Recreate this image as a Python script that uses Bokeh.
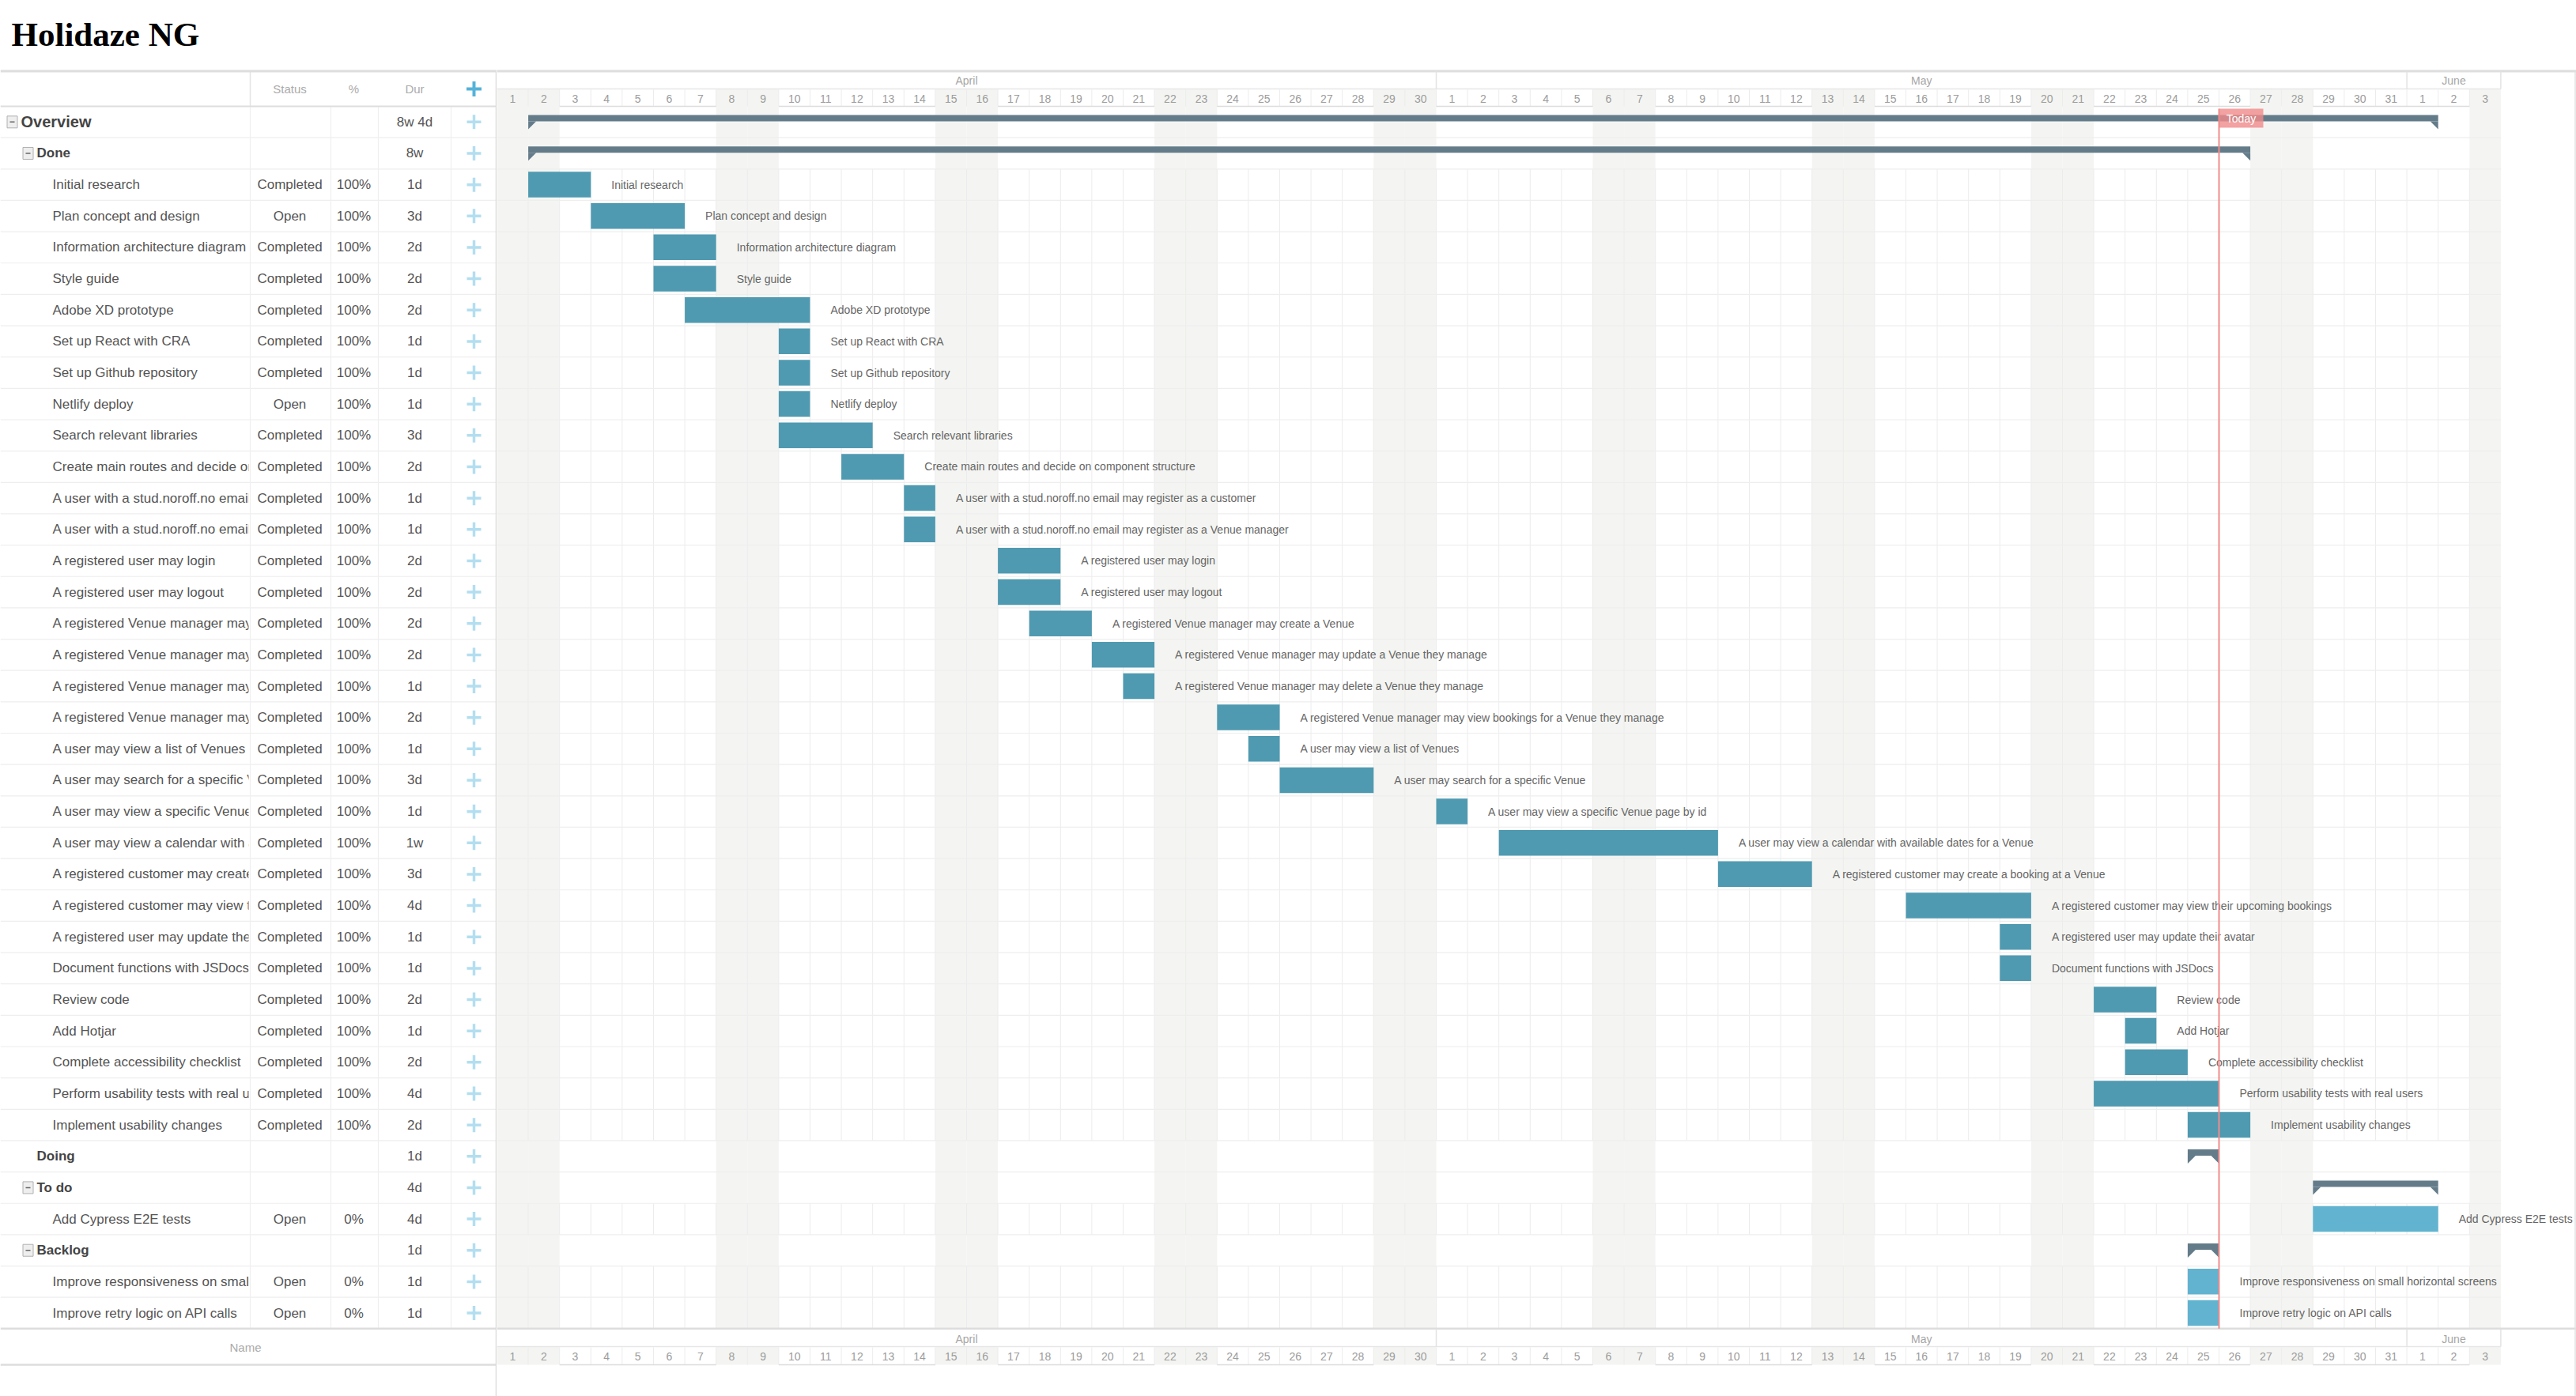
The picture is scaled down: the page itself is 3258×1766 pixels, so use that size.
import pandas as pd
from bokeh.plotting import figure
from bokeh.layouts import row
from bokeh.models import Range1d
from bokeh.embed import file_html
from bokeh.resources import INLINE
from bokeh.core.properties import value

# ---------------- data ----------------
title_text = "Holidaze NG"
header_cols = ["Status", "%", "Dur"]
footer_col = "Name"
month_labels = ["April", "May", "June"]
timeline_start = "2023-04-01"
timeline_end = "2023-06-03"
today = "2023-05-26"
today_label = "Today"

task_names = [
    "Overview", "Done", "Initial research", "Plan concept and design",
    "Information architecture diagram", "Style guide", "Adobe XD prototype",
    "Set up React with CRA", "Set up Github repository", "Netlify deploy",
    "Search relevant libraries", "Create main routes and decide on component structure",
    "A user with a stud.noroff.no email may register as a customer",
    "A user with a stud.noroff.no email may register as a Venue manager",
    "A registered user may login", "A registered user may logout",
    "A registered Venue manager may create a Venue",
    "A registered Venue manager may update a Venue they manage",
    "A registered Venue manager may delete a Venue they manage",
    "A registered Venue manager may view bookings for a Venue they manage",
    "A user may view a list of Venues", "A user may search for a specific Venue",
    "A user may view a specific Venue page by id",
    "A user may view a calendar with available dates for a Venue",
    "A registered customer may create a booking at a Venue",
    "A registered customer may view their upcoming bookings",
    "A registered user may update their avatar", "Document functions with JSDocs",
    "Review code", "Add Hotjar", "Complete accessibility checklist",
    "Perform usability tests with real users", "Implement usability changes",
    "Doing", "To do", "Add Cypress E2E tests", "Backlog",
    "Improve responsiveness on small horizontal screens",
    "Improve retry logic on API calls",
]
row_levels = [0, 1] + [2] * 31 + [1, 1, 2, 1, 2, 2]
statuses = ["", ""] + ["Completed", "Open", "Completed", "Completed", "Completed",
            "Completed", "Completed", "Open"] + ["Completed"] * 23 + \
           ["", "", "Open", "", "Open", "Open"]
progress = ["", ""] + ["100%"] * 31 + ["", "", "0%", "", "0%", "0%"]
durations = ["8w 4d", "8w", "1d", "3d", "2d", "2d", "2d", "1d", "1d", "1d", "3d", "2d",
             "1d", "1d", "2d", "2d", "2d", "2d", "1d", "2d", "1d", "3d", "1d", "1w",
             "3d", "4d", "1d", "1d", "2d", "1d", "2d", "4d", "2d", "1d", "4d", "4d",
             "1d", "1d", "1d"]
start_dates = ["2023-04-02", "2023-04-02", "2023-04-02", "2023-04-04", "2023-04-06",
               "2023-04-06", "2023-04-07", "2023-04-10", "2023-04-10", "2023-04-10",
               "2023-04-10", "2023-04-12", "2023-04-14", "2023-04-14", "2023-04-17",
               "2023-04-17", "2023-04-18", "2023-04-20", "2023-04-21", "2023-04-24",
               "2023-04-25", "2023-04-26", "2023-05-01", "2023-05-03", "2023-05-10",
               "2023-05-16", "2023-05-19", "2023-05-19", "2023-05-22", "2023-05-23",
               "2023-05-23", "2023-05-22", "2023-05-25", "2023-05-25", "2023-05-29",
               "2023-05-29", "2023-05-25", "2023-05-25", "2023-05-25"]
end_dates = ["2023-06-01", "2023-05-26", "2023-04-03", "2023-04-06", "2023-04-07",
             "2023-04-07", "2023-04-10", "2023-04-10", "2023-04-10", "2023-04-10",
             "2023-04-12", "2023-04-13", "2023-04-14", "2023-04-14", "2023-04-18",
             "2023-04-18", "2023-04-19", "2023-04-21", "2023-04-21", "2023-04-25",
             "2023-04-25", "2023-04-28", "2023-05-01", "2023-05-09", "2023-05-12",
             "2023-05-19", "2023-05-19", "2023-05-19", "2023-05-23", "2023-05-23",
             "2023-05-24", "2023-05-25", "2023-05-26", "2023-05-25", "2023-06-01",
             "2023-06-01", "2023-05-25", "2023-05-25", "2023-05-25"]

# ---------------- geometry ----------------
W, H = 3258, 1766
LEFT_W = 628
DAY_PX = 39.6
ROW_PX = 39.65
BODY_TOP = 134.0
N = len(task_names)
FONT = value("Liberation Sans")


def ry(pix):
    return (pix - BODY_TOP) / ROW_PX


t0 = pd.Timestamp(timeline_start)
days = pd.date_range(timeline_start, timeline_end)
n_days = len(days)
starts = [(pd.Timestamp(s) - t0).days for s in start_dates]
ends = [(pd.Timestamp(e) - t0).days + 1 for e in end_dates]
weekend = [d.weekday() >= 5 for d in days]
td = (pd.Timestamp(today) - t0).days

# weekday runs
wd_runs = []
i = 0
while i < n_days:
    if not weekend[i]:
        j = i
        while j < n_days and not weekend[j]:
            j += 1
        wd_runs.append((i, j))
        i = j
    else:
        i += 1

# task row runs
task_runs = []
i = 0
while i < N:
    if row_levels[i] == 2:
        j = i
        while j < N and row_levels[j] == 2:
            j += 1
        task_runs.append((i, j))
        i = j
    else:
        i += 1

has_children = [i + 1 < N and row_levels[i + 1] > row_levels[i] for i in range(N)]

# ---------------- right: timeline ----------------
xr_end = (W - LEFT_W) / DAY_PX
pr = figure(width=W - LEFT_W, height=H, x_range=Range1d(0, xr_end),
            y_range=Range1d(ry(H), ry(0)), output_backend="svg",
            toolbar_location=None, x_axis_location=None, y_axis_location=None,
            min_border=0, outline_line_color=None, background_fill_color="white",
            border_fill_color="white")
pr.grid.visible = False

we_idx = [k for k in range(n_days) if weekend[k]]
pr.quad(left=we_idx, right=[k + 1 for k in we_idx], top=ry(112), bottom=N,
        fill_color="#f4f5f2", line_color=None)
pr.quad(left=we_idx, right=[k + 1 for k in we_idx], top=ry(1703), bottom=ry(1726),
        fill_color="#f4f5f2", line_color=None)

# vertical day lines
vx0, vy0, vx1, vy1 = [], [], [], []
for b in range(1, n_days):
    for (r0, r1) in task_runs:
        vx0.append(b); vy0.append(r0); vx1.append(b); vy1.append(r1)
    vx0.append(b); vy0.append(ry(113)); vx1.append(b); vy1.append(ry(134))
    vx0.append(b); vy0.append(ry(1704)); vx1.append(b); vy1.append(ry(1726))
pr.segment(x0=vx0, y0=vy0, x1=vx1, y1=vy1, line_color="#ececec", line_width=1)

# horizontal row lines
pr.segment(x0=[0] * (N - 1), y0=list(range(1, N)), x1=[n_days] * (N - 1),
           y1=list(range(1, N)), line_color="#eeeeee", line_width=1.2)

# header / footer lines
pr.segment(x0=[0], y0=[ry(89.5)], x1=[xr_end], y1=[ry(89.5)], line_color="#dddddd", line_width=3)
pr.segment(x0=[0, 0], y0=[ry(112), ry(1703)], x1=[n_days, n_days], y1=[ry(112), ry(1703)],
           line_color="#e6e6e6", line_width=1.5)
pr.segment(x0=[0], y0=[N], x1=[xr_end], y1=[N], line_color="#dddddd", line_width=2.5)
pr.segment(x0=[a for a, b in wd_runs] * 2, y0=[0] * len(wd_runs) + [ry(1726)] * len(wd_runs),
           x1=[b for a, b in wd_runs] * 2, y1=[0] * len(wd_runs) + [ry(1726)] * len(wd_runs),
           line_color="#dcdcdc", line_width=1.5)

# months
month_start_idx = [k for k in range(n_days) if days[k].day == 1 or k == 0]
month_bounds = month_start_idx + [n_days]
sep = [b for b in month_bounds if b > 0]
pr.segment(x0=sep + sep, y0=[ry(90)] * len(sep) + [ry(1681)] * len(sep),
           x1=sep + sep, y1=[ry(112)] * len(sep) + [ry(1703)] * len(sep),
           line_color="#e3e3e3", line_width=1.5)
mx = [(month_bounds[k] + month_bounds[k + 1]) / 2 for k in range(len(month_labels))]
pr.text(x=mx + mx, y=[ry(101)] * len(mx) + [ry(1693)] * len(mx), text=month_labels + month_labels,
        text_font=FONT, text_font_size="14px", text_color="#a6a6a6",
        text_align="center", text_baseline="middle")

day_x = [k + 0.5 for k in range(n_days)]
day_txt = [str(d.day) for d in days]
pr.text(x=day_x + day_x, y=[ry(124)] * n_days + [ry(1715)] * n_days, text=day_txt + day_txt,
        text_font=FONT, text_font_size="14px", text_color="#9c9c9c",
        text_align="center", text_baseline="middle")

# summary bars
sum_rows = [k for k in range(N) if row_levels[k] < 2]
fx = 10 / DAY_PX
pr.quad(left=[starts[k] for k in sum_rows], right=[ends[k] for k in sum_rows],
        top=[k + 11 / ROW_PX for k in sum_rows], bottom=[k + 19 / ROW_PX for k in sum_rows],
        fill_color="#647c8a", line_color=None)
xs, ys = [], []
for k in sum_rows:
    b = k + 19 / ROW_PX
    f = k + 29 / ROW_PX
    xs.append([starts[k], starts[k], starts[k] + fx]); ys.append([b, f, b])
    xs.append([ends[k], ends[k], ends[k] - fx]); ys.append([b, f, b])
pr.patches(xs=xs, ys=ys, fill_color="#647c8a", line_color=None)

# task bars
task_rows = [k for k in range(N) if row_levels[k] == 2]
bar_col = ["#4f9ab1" if progress[k] == "100%" else "#62b3cf" for k in task_rows]
pr.quad(left=[starts[k] for k in task_rows], right=[ends[k] for k in task_rows],
        top=[k + 3.5 / ROW_PX for k in task_rows], bottom=[k + 36 / ROW_PX for k in task_rows],
        fill_color=bar_col, line_color=None)
pr.text(x=[ends[k] + 26 / DAY_PX for k in task_rows], y=[k + 0.5 for k in task_rows],
        text=[task_names[k] for k in task_rows], text_font=FONT, text_font_size="14px",
        text_color="#666666", text_align="left", text_baseline="middle")

# today marker
pr.segment(x0=[td], y0=[ry(137)], x1=[td], y1=[N], line_color="#f08c8c", line_width=2)
pr.quad(left=[td], right=[td + 56 / DAY_PX], top=[ry(137)], bottom=[ry(161)],
        fill_color="#f08a8a", fill_alpha=0.8, line_color=None)
pr.text(x=[td + 28 / DAY_PX], y=[ry(149)], text=[today_label], text_font=FONT,
        text_font_size="14px", text_color="#ffffff", text_align="center", text_baseline="middle")

# right edge
pr.segment(x0=[xr_end - 1.5 / DAY_PX], y0=[ry(90)], x1=[xr_end - 1.5 / DAY_PX], y1=[ry(H)],
           line_color="#e2e2e2", line_width=1.5)

# ---------------- left: table ----------------
pl = figure(width=LEFT_W, height=H, x_range=Range1d(0, LEFT_W),
            y_range=Range1d(ry(H), ry(0)), output_backend="svg",
            toolbar_location=None, x_axis_location=None, y_axis_location=None,
            min_border=0, outline_line_color=None, background_fill_color="white",
            border_fill_color="white")
pl.grid.visible = False

pl.text(x=[14], y=[ry(43)], text=[title_text], text_font=value("Liberation Serif"),
        text_font_style="bold", text_font_size="43px", text_color="#000000",
        text_baseline="middle", text_align="left")

name_x = {0: 26, 1: 46, 2: 66}
name_size = {0: "20px", 1: "17px", 2: "17px"}
for lvl in (0, 1, 2):
    rr = [k for k in range(N) if row_levels[k] == lvl]
    pl.text(x=[name_x[lvl]] * len(rr), y=[k + 0.5 for k in rr], text=[task_names[k] for k in rr],
            text_font=FONT, text_font_size=name_size[lvl],
            text_font_style="bold" if lvl < 2 else "normal",
            text_color="#444444" if lvl < 2 else "#555555",
            text_align="left", text_baseline="middle")

# clip name column
pl.quad(left=[314], right=[LEFT_W], top=[0], bottom=[N], fill_color="white", line_color=None)

pl.segment(x0=[0] * (N - 1), y0=list(range(1, N)), x1=[LEFT_W] * (N - 1), y1=list(range(1, N)),
           line_color="#eeeeee", line_width=1.2)
cols = [316, 418, 478, 570]
pl.segment(x0=cols, y0=[0] * 4, x1=cols, y1=[N] * 4, line_color="#efefef", line_width=1.2)
pl.segment(x0=[316], y0=[ry(90)], x1=[316], y1=[0], line_color="#e4e4e4", line_width=1.5)

pl.segment(x0=[0], y0=[ry(89.5)], x1=[LEFT_W], y1=[ry(89.5)], line_color="#dddddd", line_width=3)
pl.segment(x0=[0], y0=[0], x1=[LEFT_W], y1=[0], line_color="#dddddd", line_width=2)
pl.text(x=[366, 447, 524], y=[ry(112)] * 3, text=header_cols, text_font=FONT,
        text_font_size="15px", text_color="#ababab", text_align="center", text_baseline="middle")
pl.scatter(x=[599], y=[ry(112)], marker="cross", size=19, line_width=4, line_color="#55b3d8")

pl.text(x=[366] * N, y=[k + 0.5 for k in range(N)], text=statuses, text_font=FONT,
        text_font_size="17px", text_color="#555555", text_align="center", text_baseline="middle")
pl.text(x=[447] * N, y=[k + 0.5 for k in range(N)], text=progress, text_font=FONT,
        text_font_size="17px", text_color="#555555", text_align="center", text_baseline="middle")
pl.text(x=[524] * N, y=[k + 0.5 for k in range(N)], text=durations, text_font=FONT,
        text_font_size="17px", text_color="#555555", text_align="center", text_baseline="middle")
pl.scatter(x=[599] * N, y=[k + 0.5 for k in range(N)], marker="cross", size=18, line_width=3.5,
           line_color="#b3def0")

# collapse boxes
box_rows = [k for k in range(N) if has_children[k]]
bx = {0: 15, 1: 35}
pl.quad(left=[bx[row_levels[k]] - 6.5 for k in box_rows], right=[bx[row_levels[k]] + 6.5 for k in box_rows],
        top=[k + 0.5 - 7.5 / ROW_PX for k in box_rows], bottom=[k + 0.5 + 7.5 / ROW_PX for k in box_rows],
        fill_color="#eeeeee", line_color="#b0b0b0", line_width=1)
pl.segment(x0=[bx[row_levels[k]] - 3 for k in box_rows], y0=[k + 0.5 for k in box_rows],
           x1=[bx[row_levels[k]] + 3 for k in box_rows], y1=[k + 0.5 for k in box_rows],
           line_color="#666666", line_width=1.5)

# footer
pl.segment(x0=[0, 0], y0=[N, ry(1726)], x1=[LEFT_W, LEFT_W], y1=[N, ry(1726)],
           line_color="#dddddd", line_width=2.5)
pl.text(x=[310], y=[ry(1704)], text=[footer_col], text_font=FONT, text_font_size="15px",
        text_color="#ababab", text_align="center", text_baseline="middle")

# divider
pl.segment(x0=[627], y0=[ry(90)], x1=[627], y1=[ry(H)], line_color="#d9d9d9", line_width=1.5)

layout = row(pl, pr)
open("out.html", "w").write(file_html(layout, INLINE))
